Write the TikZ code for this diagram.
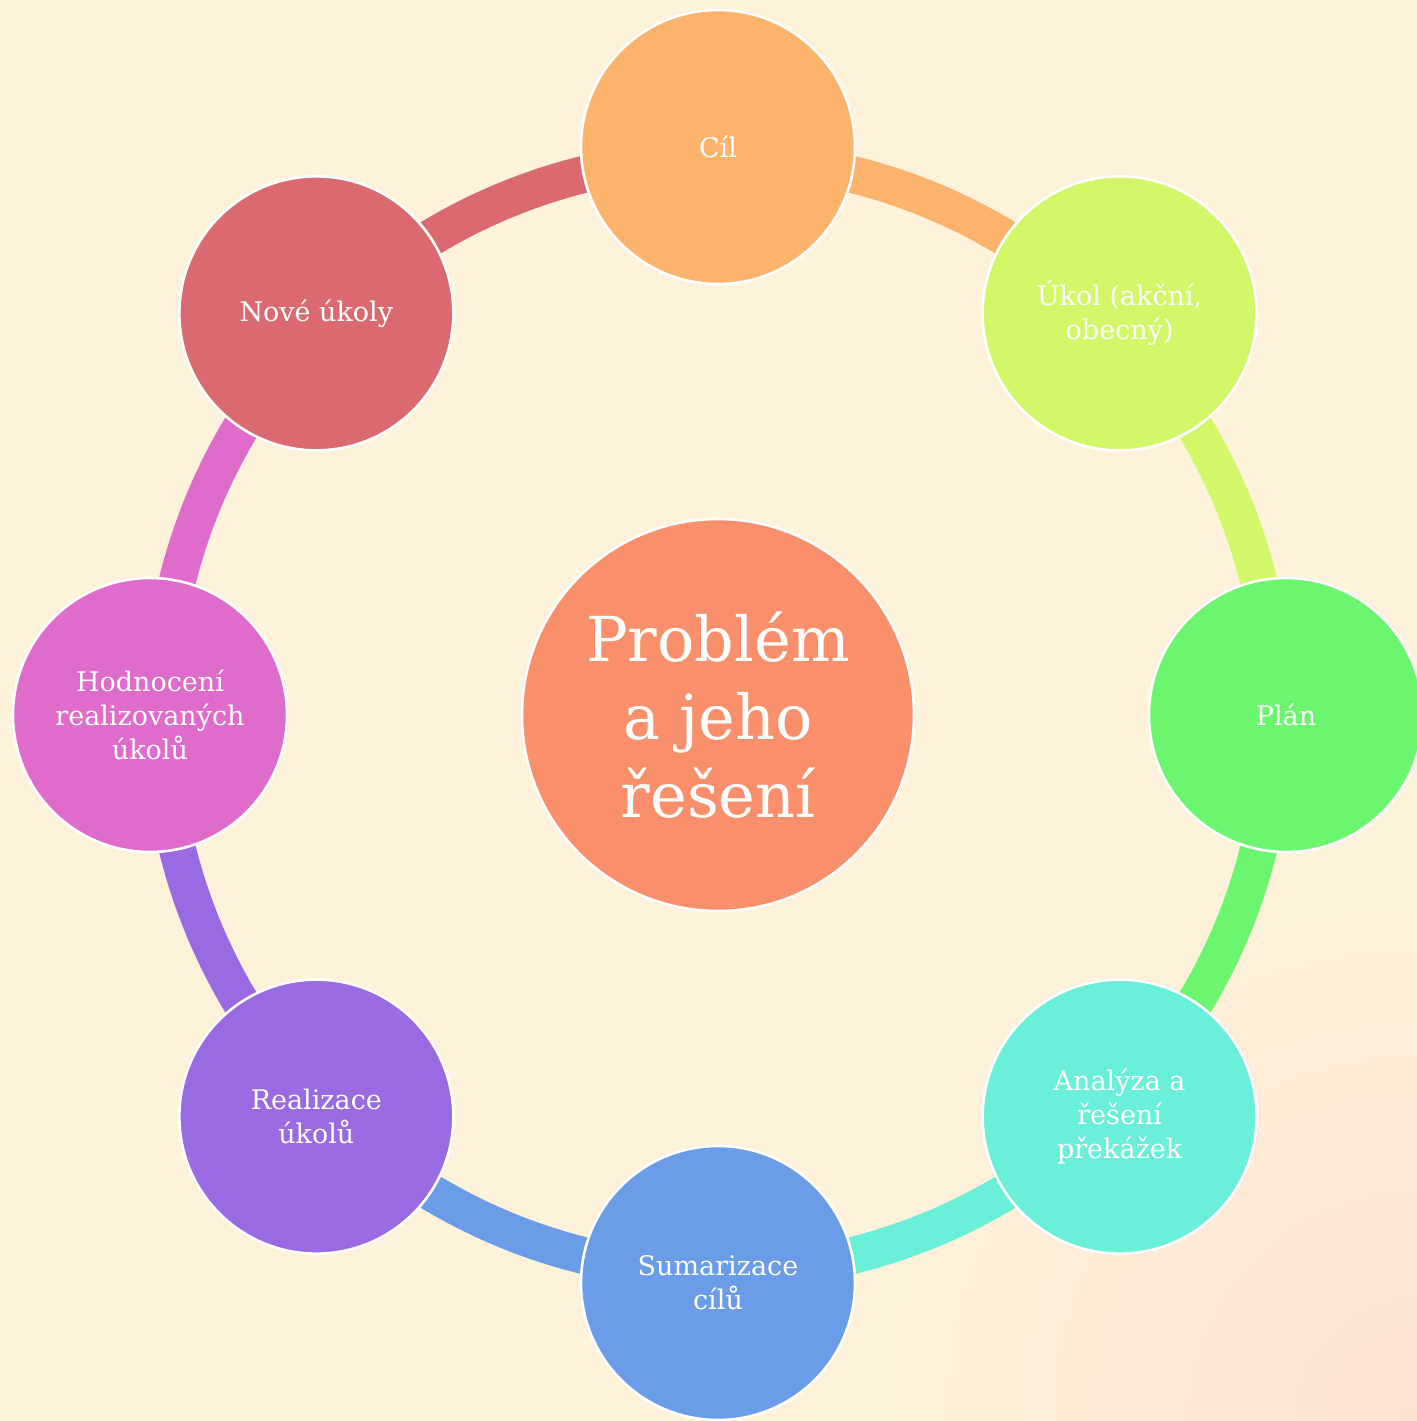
\documentclass[tikz,border=0pt]{standalone}
\usepackage{fontspec}
\setmainfont{DejaVu Serif}
\begin{document}
\begin{tikzpicture}[x=0.5pt,y=0.5pt,
  every node/.style={font=\fontsize{13.5}{17}\selectfont, text=white, align=center},
  bub/.style={circle, draw=white, line width=1.3pt, minimum size=137pt, inner sep=0pt},
  ring/.style={line width=18.5pt},
]
\definecolor{bgA}{HTML}{FEF2DA}
\definecolor{bgB}{HTML}{FDE2D3}
\definecolor{cA}{HTML}{FCB36B}
\definecolor{cB}{HTML}{D2F86A}
\definecolor{cC}{HTML}{6CF56F}
\definecolor{cD}{HTML}{6AEFD9}
\definecolor{cE}{HTML}{6A9CE8}
\definecolor{cF}{HTML}{9A6AE3}
\definecolor{cG}{HTML}{DF6BCB}
\definecolor{cH}{HTML}{DA6A70}
\definecolor{cM}{HTML}{F9906B}
\useasboundingbox (-718,-706) rectangle (699,715);
\fill[bgA] (-718,-706) rectangle (699,715);
\begin{scope}
\clip (-718,-706) rectangle (699,715);
\shade[inner color=bgB, outer color=bgA] (699,-706) circle (560);
\end{scope}
% bubble positions
\coordinate (pA) at (90:568);
\coordinate (pB) at (45:568);
\coordinate (pC) at (0:568);
\coordinate (pD) at (-45:568);
\coordinate (pE) at (-90:568);
\coordinate (pF) at (-135:568);
\coordinate (pG) at (180:568);
\coordinate (pH) at (135:568);
% ring anchor points
\coordinate (qA) at (90:557);
\coordinate (qB) at (45:557);
\coordinate (qC) at (0:557);
\coordinate (qD) at (-45:557);
\coordinate (qE) at (-90:557);
\coordinate (qF) at (-135:557);
\coordinate (qG) at (180:557);
\coordinate (qH) at (135:557);
% ring arcs
\draw[ring, cA] (qA) arc[start angle=90, end angle=45, radius=557];
\draw[ring, cB] (qB) arc[start angle=45, end angle=0, radius=557];
\draw[ring, cC] (qC) arc[start angle=0, end angle=-45, radius=557];
\draw[ring, cD] (qD) arc[start angle=-45, end angle=-90, radius=557];
\draw[ring, cE] (qE) arc[start angle=-90, end angle=-135, radius=557];
\draw[ring, cF] (qF) arc[start angle=-135, end angle=-180, radius=557];
\draw[ring, cG] (qG) arc[start angle=180, end angle=135, radius=557];
\draw[ring, cH] (qH) arc[start angle=135, end angle=90, radius=557];
% bubbles
\node[bub, fill=cM, minimum size=196pt, font=\fontsize{31}{39}\selectfont] (mid) at (0,0) {Problém\\a jeho\\řešení};
\node[bub, fill=cA] (cil) at (pA) {Cíl};
\node[bub, fill=cB] (ukol) at (pB) {Úkol (akční,\\obecný)};
\node[bub, fill=cC] (plan) at (pC) {Plán};
\node[bub, fill=cD] (anal) at (pD) {Analýza a\\řešení\\překážek};
\node[bub, fill=cE] (sum) at (pE) {Sumarizace\\cílů};
\node[bub, fill=cF] (real) at (pF) {Realizace\\úkolů};
\node[bub, fill=cG] (hod) at (pG) {Hodnocení\\realizovaných\\úkolů};
\node[bub, fill=cH] (nove) at (pH) {Nové úkoly};
\end{tikzpicture}
\end{document}
